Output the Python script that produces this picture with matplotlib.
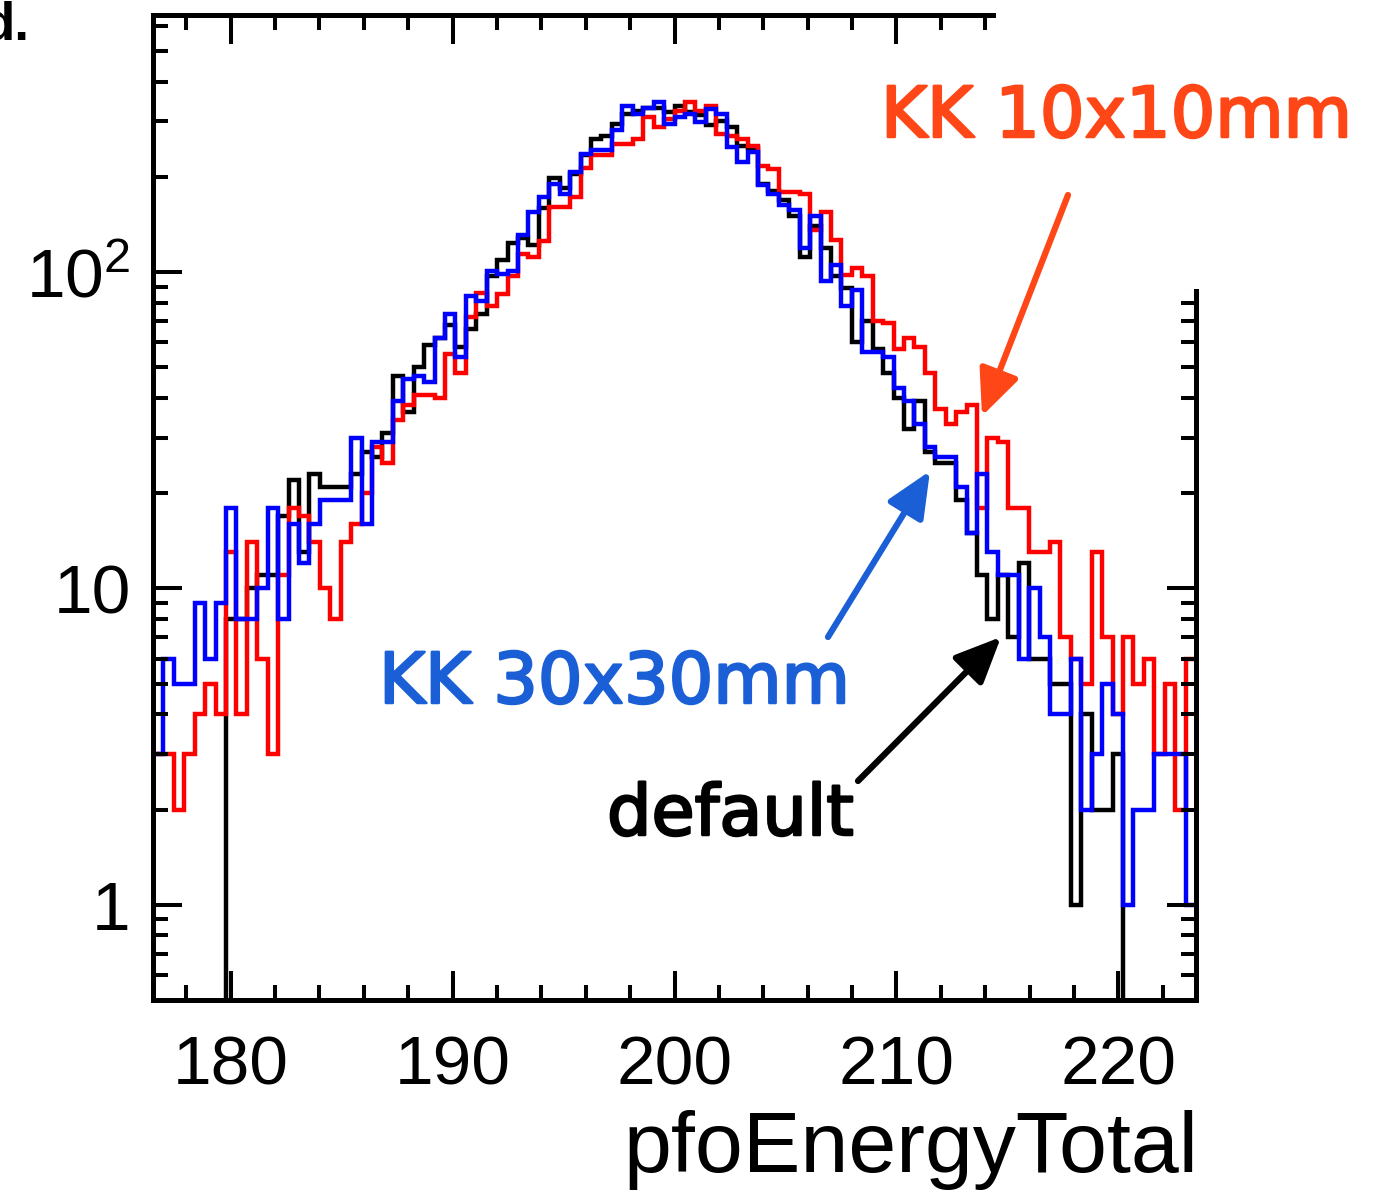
import numpy as np
import matplotlib.pyplot as plt
import matplotlib.patheffects as pe
from matplotlib.patches import Rectangle, FancyArrowPatch
from matplotlib.ticker import MultipleLocator, LogLocator, FuncFormatter, NullFormatter

plt.rcParams['font.family'] = 'Liberation Sans'
plt.rcParams['mathtext.default'] = 'regular'

# 100 bins over the plotted range (ROOT style binning)
x_range = (176.5, 223.5)
n_bins = 100
y_range = (0.5, 650)

default_counts = [
    0, 0, 0, 0, 0, 0, 0,
    8, 8, 10, 11, 11, 17, 22,
    13, 23, 21, 21, 21, 23, 27,
    26, 31, 47, 36, 50, 59, 62,
    68, 58, 66, 74, 97, 109, 124,
    128, 122, 160, 198, 185, 205, 235,
    263, 270, 294, 317, 324, 330, 330,
    320, 336, 320, 313, 291, 300, 288,
    250, 247, 190, 181, 169, 151, 112,
    140, 119, 97, 89, 60, 70, 57,
    48, 40, 32, 39, 27, 25, 25,
    19, 15, 11, 8, 11, 7, 12,
    6, 6, 5, 5, 1, 4, 2,
    2, 3, 0, 0, 0, 0, 0, 0, 0,
]
kk10_counts = [
    3, 3, 2, 3, 4, 5, 4,
    13, 4, 14, 6, 3, 11, 18,
    17, 14, 10, 8, 14, 16, 20,
    28, 25, 34, 38, 41, 41, 40,
    55, 48, 72, 86, 78, 85, 97,
    114, 112, 125, 161, 161, 173, 213,
    234, 234, 255, 255, 264, 309, 287,
    305, 324, 344, 324, 336, 274, 270,
    264, 251, 217, 212, 179, 179, 177,
    136, 155, 126, 98, 103, 97, 70,
    69, 57, 62, 58, 48, 37, 33,
    36, 38, 18, 30, 29, 18, 18,
    13, 13, 14, 7, 6, 5, 13,
    7, 4, 7, 5, 6, 3, 5, 2, 6,
]
kk30_counts = [
    3, 6, 5, 5, 9, 6, 9,
    18, 8, 8, 10, 18, 8, 16,
    12, 16, 19, 19, 19, 30, 16,
    29, 29, 39, 46, 47, 45, 62,
    74, 54, 84, 81, 101, 99, 101,
    131, 155, 173, 190, 177, 207, 237,
    243, 243, 281, 336, 317, 331, 344,
    294, 310, 317, 298, 328, 317, 248,
    223, 240, 188, 177, 163, 157, 119,
    151, 94, 105, 78, 88, 56, 56,
    54, 43, 39, 33, 28, 26, 26,
    21, 15, 23, 13, 11, 11, 6,
    10, 7, 4, 4, 6, 2, 3,
    5, 4, 1, 2, 2, 3, 3, 3, 1,
]

y_tick_text = {1: '1', 10: '10', 100: r'$10^{2}$'}

red_c = '#ff4616'
blue_c = '#1a5fd6'

W, H = 1383, 1191


def fxy(px, py):
    return px / W, 1 - py / H


fig = plt.figure(figsize=(W / 100, H / 100), dpi=100)
ax = fig.add_axes([153 / W, 1 - 1000 / H, (1196 - 153) / W, (1000 - 15) / H])

edges = np.linspace(x_range[0], x_range[1], n_bins + 1)
ax.set_yscale('log')
ax.stairs(default_counts, edges, baseline=None, color='black', lw=3.2)
ax.stairs(kk10_counts, edges, baseline=None, color='red', lw=3.2)
ax.stairs(kk30_counts, edges, baseline=None, color='blue', lw=3.2)

ax.set_xlim(*x_range)
ax.set_ylim(*y_range)

ax.xaxis.set_major_locator(MultipleLocator(10))
ax.xaxis.set_minor_locator(MultipleLocator(2))
ax.yaxis.set_major_locator(LogLocator(base=10))
ax.yaxis.set_minor_locator(LogLocator(base=10, subs=np.arange(2, 10)))
ax.yaxis.set_minor_formatter(NullFormatter())


def ylab(v, pos):
    for k, s in y_tick_text.items():
        if np.isclose(v, k):
            return s
    return ''


ax.yaxis.set_major_formatter(FuncFormatter(ylab))

ax.tick_params(which='both', direction='in', top=True, right=True, width=2.9)
ax.tick_params(which='major', length=21)
ax.tick_params(which='minor', length=10.5)
ax.tick_params(axis='x', which='major', labelsize=50, pad=25)
ax.tick_params(axis='y', which='major', labelsize=50, pad=16)
for s in ax.spines.values():
    s.set_linewidth(3.6)

fig.text(*fxy(1198, 1172), 'pfoEnergyTotal', ha='right', va='baseline', fontsize=62)
fig.text(*fxy(30, 39), 'd.', ha='right', va='baseline', fontsize=38, weight='bold')

# white block hiding the top right corner of the frame
fig.add_artist(Rectangle(fxy(996, 289), (W - 996) / W, 289 / H,
                         transform=fig.transFigure, facecolor='white',
                         edgecolor='none', zorder=3))

ann_font = dict(family='DejaVu Sans', fontsize=50.5, ha='left', va='baseline', zorder=4)
for (px, py), s, c in [((881, 137), 'KK 10x10mm', red_c),
                       ((379, 703), 'KK 30x30mm', blue_c),
                       ((607, 835), 'default', 'black')]:
    fig.text(*fxy(px, py), s, color=c,
             path_effects=[pe.withStroke(linewidth=1.8, foreground=c)], **ann_font)

arrows = [((1068, 195), (982, 416), red_c),
          ((828, 637), (930, 471), blue_c),
          ((858, 781), (1001, 637), 'black')]
for tail, tip, c in arrows:
    fig.add_artist(FancyArrowPatch(fxy(*tail), fxy(*tip), transform=fig.transFigure,
                                   arrowstyle='-|>,head_length=2.8,head_width=1.25',
                                   mutation_scale=10, lw=4.5, color=c,
                                   shrinkA=0, shrinkB=0, zorder=4))

fig.savefig('out.png', dpi=100, facecolor='white')
